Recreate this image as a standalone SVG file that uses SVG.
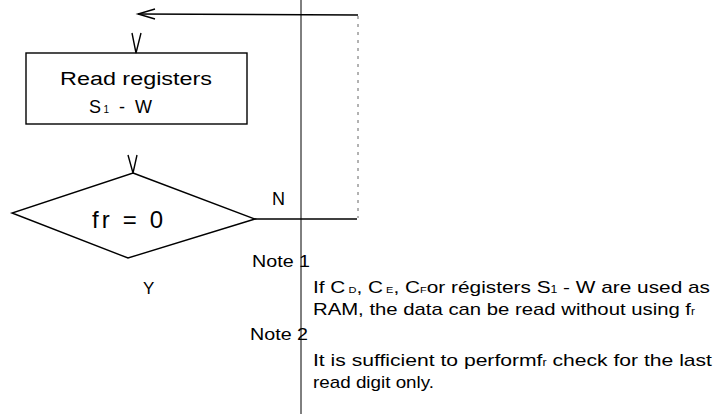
<svg xmlns="http://www.w3.org/2000/svg" width="726" height="414" viewBox="0 0 726 414">
<style>
.ln{fill:none;stroke:#000;stroke-width:1.4;stroke-linejoin:miter}
.t{font-family:"Liberation Sans",Arial,sans-serif;fill:#000}
.n{font-size:17px}
</style>
<rect width="726" height="414" fill="#fff"/>
<g id="connectors">
<line x1="301" y1="0" x2="301" y2="414" stroke="#000" stroke-width="1"/>
<line x1="358" y1="16" x2="358" y2="218" stroke="#666" stroke-width="1" stroke-dasharray="3,5"/>
<polyline class="ln" points="358,15 138,14"/>
<polyline class="ln" points="155,9 138,14 155,19"/>
<polyline class="ln" points="132,33 136,53 141,33"/>
<polyline class="ln" points="128,155 133,173 137,155"/>
<line class="ln" x1="255" y1="219" x2="357" y2="219"/>
</g>
<g id="box">
<rect class="ln" x="26" y="53" width="221" height="71"/>
<text class="t" x="60" y="85" font-size="18" textLength="152" lengthAdjust="spacingAndGlyphs">Read registers</text>
<text class="t" x="89" y="113" font-size="18" textLength="63" lengthAdjust="spacing">S<tspan font-size="10">1</tspan> - W</text>
</g>
<g id="decision">
<polygon class="ln" points="133,173 255,219 128,258 12,213"/>
<text class="t" x="92" y="228" font-size="24" textLength="71" lengthAdjust="spacing">fr = 0</text>
</g>
<g id="labels">
<text class="t" x="272" y="205" font-size="18">N</text>
<text class="t" x="143" y="294" font-size="17">Y</text>
</g>
<g id="notes">
<text class="t n" x="252" y="267" textLength="58" lengthAdjust="spacingAndGlyphs">Note 1</text>
<text class="t n" x="313" y="293" textLength="397" lengthAdjust="spacingAndGlyphs">If C<tspan font-size="9"> D</tspan>, C<tspan font-size="9"> E</tspan>, C<tspan font-size="9">F</tspan>or régisters S<tspan font-size="10">1</tspan> - W are used as</text>
<text class="t n" x="313" y="315" textLength="382" lengthAdjust="spacingAndGlyphs">RAM, the data can be read without using f<tspan font-size="10">r</tspan></text>
<text class="t n" x="250" y="340" textLength="58" lengthAdjust="spacingAndGlyphs">Note 2</text>
<text class="t n" x="313" y="366" textLength="399" lengthAdjust="spacingAndGlyphs">It is sufficient to performf<tspan font-size="10">r</tspan> check for the last</text>
<text class="t n" x="313" y="388" textLength="121" lengthAdjust="spacingAndGlyphs">read digit only.</text>
</g>
</svg>
